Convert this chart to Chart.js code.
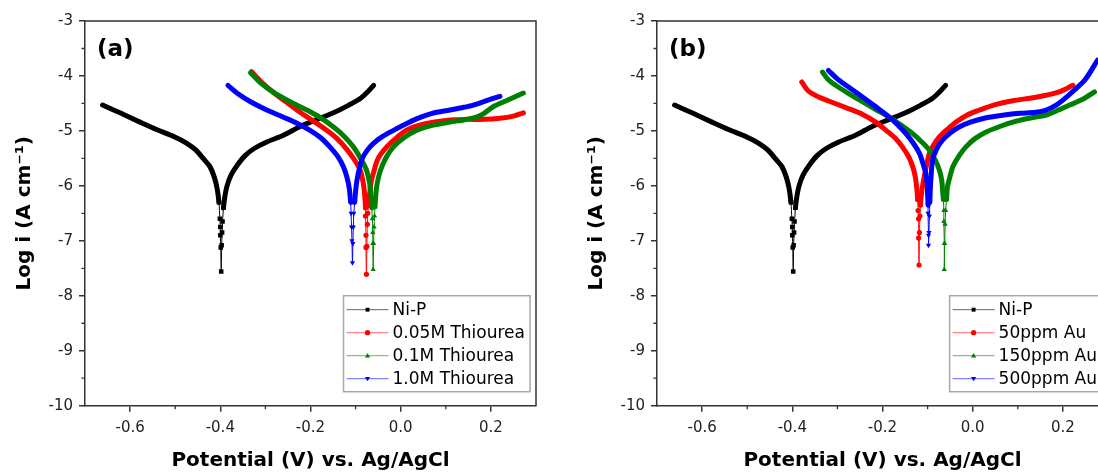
<!DOCTYPE html>
<html>
<head>
<meta charset="utf-8">
<script src="https://cdn.jsdelivr.net/npm/chart.js@4.4.1/dist/chart.umd.min.js"></script>
<style>
  html, body { margin: 0; padding: 0; background: #fff; }
  body { width: 1098px; height: 473px; overflow: hidden; position: relative; }
  canvas { position: absolute; top: 0; }
  #chartA { left: 0; }
  #chartB { left: 572px; }
</style>
</head>
<body>
<canvas id="chartA" width="549" height="473"></canvas>
<canvas id="chartB" width="549" height="473"></canvas>
<script>
// axis ticks
const xTicks = [-0.6, -0.4, -0.2, 0.0, 0.2];
const xMinorTicks = [-0.5, -0.3, -0.1, 0.1];
const yTicks = [-10, -9, -8, -7, -6, -5, -4, -3];
const yMinorTicks = [-9.5, -8.5, -7.5, -6.5, -5.5, -4.5, -3.5];

const labelsA = ["Ni-P", "0.05M Thiourea", "0.1M Thiourea", "1.0M Thiourea"];
const labelsB = ["Ni-P", "50ppm Au", "150ppm Au", "500ppm Au"];

// Ni-P (same curve in both panels)
const nipPotential = [-0.661, -0.62, -0.578, -0.54, -0.501, -0.475, -0.454, -0.438, -0.423, -0.413, -0.407, -0.403,
  -0.401, -0.400, -0.400, -0.399, -0.398, -0.397, -0.396, -0.395, -0.393,
  -0.390, -0.385, -0.376, -0.362, -0.345, -0.325, -0.297, -0.260, -0.223, -0.185, -0.149, -0.115, -0.088, -0.072, -0.060];
const nipLogI = [-4.53, -4.68, -4.84, -4.98, -5.11, -5.22, -5.35, -5.50, -5.65, -5.85, -6.05, -6.30,
  -6.60, -6.75, -6.90, -7.12, -7.56, -7.08, -6.85, -6.65, -6.40,
  -6.20, -6.00, -5.80, -5.62, -5.45, -5.32, -5.20, -5.08, -4.92, -4.79, -4.67, -4.53, -4.40, -4.28, -4.17];

// panel (a)
const thio005Potential = [-0.331, -0.31, -0.282, -0.253, -0.223, -0.192, -0.164, -0.140, -0.120, -0.103, -0.090, -0.083, -0.080,
  -0.078, -0.078, -0.077, -0.077, -0.076, -0.075, -0.074, -0.073, -0.071,
  -0.069, -0.066, -0.060, -0.050, -0.031, -0.010, 0.012, 0.040, 0.072, 0.110, 0.146, 0.185, 0.220, 0.250, 0.272];
const thio005LogI = [-3.92, -4.10, -4.30, -4.48, -4.66, -4.83, -4.99, -5.15, -5.33, -5.52, -5.71, -5.95, -6.15,
  -6.40, -6.55, -6.90, -7.12, -7.61, -7.10, -6.70, -6.50, -6.35,
  -6.15, -5.95, -5.75, -5.50, -5.29, -5.13, -4.99, -4.90, -4.84, -4.80, -4.79, -4.79, -4.77, -4.73, -4.67];

const thio01Potential = [-0.333, -0.31, -0.282, -0.245, -0.208, -0.178, -0.149, -0.125, -0.105, -0.089, -0.076, -0.069, -0.066,
  -0.064, -0.063, -0.062, -0.062, -0.061, -0.060, -0.059, -0.058, -0.057,
  -0.055, -0.052, -0.045, -0.032, -0.016, 0.008, 0.035, 0.070, 0.109, 0.140, 0.168, 0.185, 0.205, 0.240, 0.272];
const thio01LogI = [-3.94, -4.13, -4.30, -4.47, -4.62, -4.76, -4.93, -5.10, -5.29, -5.50, -5.71, -5.95, -6.15,
  -6.40, -6.60, -6.85, -7.05, -7.52, -7.05, -6.75, -6.55, -6.38,
  -6.15, -5.95, -5.72, -5.48, -5.29, -5.12, -4.99, -4.90, -4.84, -4.80, -4.75, -4.68, -4.56, -4.43, -4.31];

const thio10Potential = [-0.383, -0.36, -0.333, -0.297, -0.260, -0.230, -0.201, -0.178, -0.157, -0.140, -0.127, -0.119, -0.114,
  -0.111, -0.110, -0.109, -0.108, -0.107, -0.106, -0.105, -0.104, -0.102,
  -0.100, -0.097, -0.092, -0.085, -0.074, -0.061, -0.040, -0.016, 0.010, 0.035, 0.070, 0.109, 0.140, 0.161, 0.190, 0.220];
const thio10LogI = [-4.17, -4.33, -4.47, -4.62, -4.75, -4.86, -4.99, -5.12, -5.29, -5.46, -5.65, -5.85, -6.05,
  -6.30, -6.50, -6.75, -7.00, -7.40, -7.05, -6.75, -6.50, -6.30,
  -6.10, -5.90, -5.70, -5.50, -5.35, -5.23, -5.10, -4.99, -4.88, -4.78, -4.68, -4.62, -4.57, -4.53, -4.45, -4.37];

// panel (b)
const au50Potential = [-0.379, -0.365, -0.345, -0.318, -0.280, -0.244, -0.215, -0.192, -0.172, -0.156, -0.142, -0.133, -0.127, -0.124,
  -0.122, -0.121, -0.120, -0.120, -0.119, -0.118, -0.117, -0.116,
  -0.113, -0.109, -0.103, -0.096, -0.086, -0.074, -0.056, -0.037, -0.012, 0.015, 0.050, 0.089, 0.130, 0.163, 0.195, 0.222];
const au50LogI = [-4.11, -4.27, -4.37, -4.46, -4.58, -4.70, -4.84, -4.99, -5.13, -5.29, -5.47, -5.65, -5.85, -6.05,
  -6.25, -6.45, -6.60, -6.95, -7.44, -6.85, -6.55, -6.35,
  -6.10, -5.90, -5.65, -5.41, -5.25, -5.11, -4.97, -4.84, -4.71, -4.62, -4.52, -4.45, -4.40, -4.35, -4.28, -4.17];

const au150Potential = [-0.333, -0.320, -0.304, -0.275, -0.244, -0.215, -0.185, -0.158, -0.133, -0.113, -0.096, -0.083, -0.074, -0.069, -0.067,
  -0.065, -0.064, -0.064, -0.063, -0.063, -0.062, -0.061, -0.060, -0.058,
  -0.056, -0.050, -0.044, -0.030, -0.015, 0.005, 0.030, 0.060, 0.089, 0.125, 0.163, 0.190, 0.215, 0.245, 0.270];
const au150LogI = [-3.93, -4.07, -4.17, -4.32, -4.47, -4.61, -4.75, -4.90, -5.05, -5.20, -5.35, -5.53, -5.71, -5.88, -6.05,
  -6.25, -6.45, -6.65, -7.05, -7.52, -7.05, -6.70, -6.45, -6.25,
  -6.02, -5.82, -5.65, -5.45, -5.29, -5.14, -5.02, -4.92, -4.84, -4.77, -4.71, -4.62, -4.53, -4.42, -4.29];

const au500Potential = [-0.320, -0.302, -0.281, -0.255, -0.230, -0.207, -0.185, -0.165, -0.148, -0.132, -0.118, -0.110, -0.104, -0.101,
  -0.100, -0.099, -0.099, -0.098, -0.098, -0.097, -0.096, -0.095,
  -0.094, -0.092, -0.089, -0.080, -0.067, -0.050, -0.030, -0.005, 0.030, 0.070, 0.104, 0.140, 0.163, 0.185, 0.200, 0.225, 0.250, 0.277];
const au500LogI = [-3.90, -4.04, -4.17, -4.32, -4.47, -4.61, -4.75, -4.90, -5.05, -5.22, -5.41, -5.60, -5.77, -5.95,
  -6.15, -6.35, -6.50, -6.90, -7.08, -6.85, -6.55, -6.30,
  -6.05, -5.80, -5.53, -5.33, -5.17, -5.04, -4.93, -4.84, -4.76, -4.71, -4.68, -4.66, -4.62, -4.53, -4.44, -4.26, -4.06, -3.71];

const colors = ["#000000", "#ff0000", "#008000", "#0000ff"];
const markers = ["rect", "circle", "triangle", "triangle"];
const markerRot = [0, 0, 0, 180];
const markerSize = [3.2, 2.6, 3, 3];

const FONT = '"DejaVu Sans", sans-serif';
const AXIS = "#333333";
const TIP = -6.2; // below this level the single points show

function drawMarker(ctx, style, rot, x, y, r, color) {
  ctx.fillStyle = color;
  ctx.beginPath();
  if (style === "rect") {
    const s = r * 0.75;
    ctx.rect(x - s, y - s, 2 * s, 2 * s);
  } else if (style === "circle") {
    ctx.arc(x, y, r, 0, Math.PI * 2);
  } else {
    const d = rot === 180 ? -1 : 1;
    ctx.moveTo(x, y - d * r);
    ctx.lineTo(x - r, y + d * r * 0.7);
    ctx.lineTo(x + r, y + d * r * 0.7);
    ctx.closePath();
  }
  ctx.fill();
}

const decor = {
  id: "decor",
  afterDraw(chart, args, opts) {
    const ctx = chart.ctx, a = chart.chartArea;
    const xs = chart.scales.x, ys = chart.scales.y;
    ctx.save();
    ctx.strokeStyle = AXIS;
    ctx.lineWidth = 1.5;
    ctx.beginPath();
    ctx.moveTo(a.left, a.top);
    ctx.lineTo(a.right, a.top);
    ctx.lineTo(a.right, a.bottom);
    ctx.stroke();

    ctx.lineWidth = 1.3;
    ctx.beginPath();
    xMinorTicks.forEach(v => {
      const p = xs.getPixelForValue(v);
      ctx.moveTo(p, a.bottom);
      ctx.lineTo(p, a.bottom + 3.5);
    });
    yMinorTicks.forEach(v => {
      const p = ys.getPixelForValue(v);
      ctx.moveTo(a.left, p);
      ctx.lineTo(a.left - 3.5, p);
    });
    ctx.stroke();

    // panel label
    ctx.fillStyle = "#000";
    ctx.font = "bold 23px " + FONT;
    ctx.textBaseline = "middle";
    ctx.textAlign = "left";
    ctx.fillText(opts.panel, a.left + 12, a.top + 29);

    // legend box
    const items = chart.data.datasets;
    ctx.font = "17px " + FONT;
    const textW = Math.max(...items.map(d => ctx.measureText(d.label).width));
    const boxW = 50 + textW + 4, boxH = 96;
    const bx = a.right - 6 - boxW, by = a.bottom - 14 - boxH;
    ctx.fillStyle = "#fff";
    ctx.fillRect(bx, by, boxW, boxH);
    ctx.strokeStyle = "#a8a8a8";
    ctx.lineWidth = 1.5;
    ctx.strokeRect(bx, by, boxW, boxH);
    items.forEach((d, i) => {
      const y = by + 14 + i * 23;
      ctx.strokeStyle = d.borderColor;
      ctx.globalAlpha = 0.6;
      ctx.lineWidth = 1;
      ctx.beginPath();
      ctx.moveTo(bx + 3, y);
      ctx.lineTo(bx + 45, y);
      ctx.stroke();
      ctx.globalAlpha = 1;
      drawMarker(ctx, d.pointStyle, d.pointRotation, bx + 24, y, 2.6, d.borderColor);
      ctx.fillStyle = "#000";
      ctx.fillText(d.label, bx + 49, y + 1);
    });
    ctx.restore();
  }
};

function buildDataset(label, pot, logI, i) {
  return {
    label: label,
    data: pot.map((x, k) => ({ x: x, y: logI[k] })),
    borderColor: colors[i],
    backgroundColor: colors[i],
    borderWidth: 5,
    tension: 0.3,
    borderCapStyle: "round",
    borderJoinStyle: "round",
    pointStyle: markers[i],
    pointRotation: markerRot[i],
    pointRadius: c => (c.raw && c.raw.y < TIP) ? markerSize[i] : 0,
    pointBorderWidth: 0,
    pointBackgroundColor: colors[i],
    pointHoverRadius: 0,
    order: 4 - i,
    segment: {
      borderWidth: c => (c.p0.parsed.y < TIP && c.p1.parsed.y < TIP) ? 1 : 5
    }
  };
}

function makeChart(id, panel, datasets) {
  return new Chart(document.getElementById(id), {
    type: "line",
    data: { datasets: datasets },
    options: {
      responsive: false,
      animation: false,
      events: [],
      layout: { padding: { left: 0, right: 13, top: 21, bottom: 0 } },
      scales: {
        x: {
          type: "linear",
          min: -0.7,
          max: 0.3,
          afterBuildTicks: sc => { sc.ticks = xTicks.map(v => ({ value: v })); },
          afterFit: sc => { sc.height = 67.3; },
          ticks: {
            callback: v => Number(v).toFixed(1),
            font: { family: FONT, size: 15 },
            color: "#222",
            padding: 7,
            maxRotation: 0,
            autoSkip: false
          },
          grid: { display: true, drawOnChartArea: false, drawTicks: true, tickLength: 6, color: AXIS, lineWidth: 1.5 },
          border: { display: true, color: AXIS, width: 1.5 },
          title: {
            display: true,
            text: "Potential (V) vs. Ag/AgCl",
            font: { family: FONT, size: 20, weight: "bold" },
            color: "#000",
            padding: { top: 0, bottom: 0 }
          }
        },
        y: {
          type: "linear",
          min: -10,
          max: -3,
          afterBuildTicks: sc => { sc.ticks = yTicks.map(v => ({ value: v })); },
          afterFit: sc => { sc.width = 85; },
          ticks: {
            callback: v => String(Math.round(v)),
            font: { family: FONT, size: 15 },
            color: "#222",
            padding: 6
          },
          grid: { display: true, drawOnChartArea: false, drawTicks: true, tickLength: 6, color: AXIS, lineWidth: 1.5 },
          border: { display: true, color: AXIS, width: 1.5 },
          title: {
            display: true,
            text: "Log i (A cm\u207B\u00B9)",
            font: { family: FONT, size: 20, weight: "bold" },
            color: "#000",
            padding: { top: 13, bottom: 0 }
          }
        }
      },
      plugins: {
        legend: { display: false },
        tooltip: { enabled: false },
        decor: { panel: panel }
      }
    },
    plugins: [decor]
  });
}

makeChart("chartA", "(a)", [
  buildDataset(labelsA[0], nipPotential, nipLogI, 0),
  buildDataset(labelsA[1], thio005Potential, thio005LogI, 1),
  buildDataset(labelsA[2], thio01Potential, thio01LogI, 2),
  buildDataset(labelsA[3], thio10Potential, thio10LogI, 3)
]);

makeChart("chartB", "(b)", [
  buildDataset(labelsB[0], nipPotential, nipLogI, 0),
  buildDataset(labelsB[1], au50Potential, au50LogI, 1),
  buildDataset(labelsB[2], au150Potential, au150LogI, 2),
  buildDataset(labelsB[3], au500Potential, au500LogI, 3)
]);
</script>
</body>
</html>
